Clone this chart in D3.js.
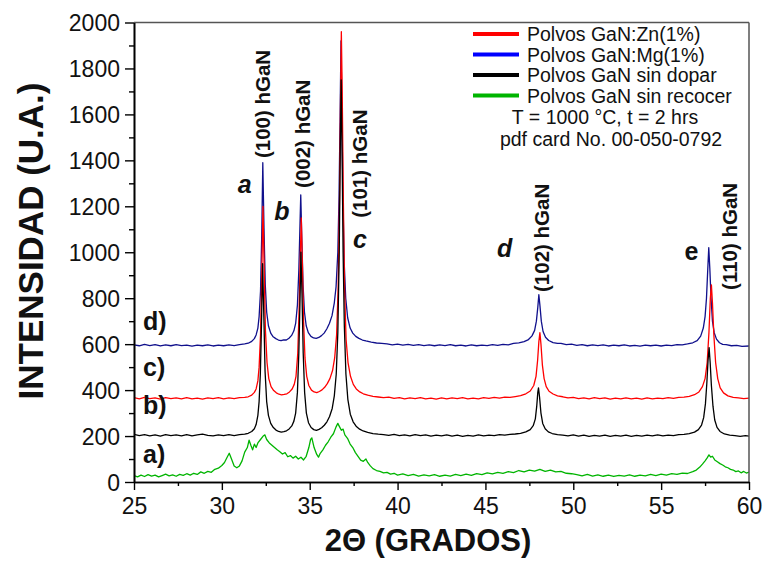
<!DOCTYPE html>
<html><head><meta charset="utf-8">
<script src="https://cdn.jsdelivr.net/npm/d3@7"></script>
<style>body{margin:0;background:#fff} text{font-family:Arial,"Liberation Sans",sans-serif}</style>
</head><body><svg id="c" width="766" height="561"></svg>
<script>
// ---- data (2θ, intensity) ----
const xTicks = [25,30,35,40,45,50,55,60];
const xMinor = [27.5,32.5,37.5,42.5,47.5,52.5,57.5];
const yTicks = [0,200,400,600,800,1000,1200,1400,1600,1800,2000];
const yMinor = [100,300,500,700,900,1100,1300,1500,1700,1900];

const seriesNames = ["Polvos GaN:Zn(1%)","Polvos GaN:Mg(1%)","Polvos GaN sin dopar","Polvos GaN sin recocer"];
const seriesColors = ["#ff0000","#10108c","#000000","#00b400"];
const legendColors = ["#ff0000","#0000ff","#000000","#00b400"];

const mgData = [[25.0,597],[25.3,593],[25.6,599],[25.9,594],[26.2,598],[26.5,592],[26.8,597],[27.1,593],[27.4,598],[27.7,594],[28.0,596],[28.3,591],[28.6,596],[28.9,593],[29.2,597],[29.5,592],[29.8,596],[30.1,593],[30.4,597],[30.7,594],[31.0,598],[31.3,601],
[31.5,604],[31.7,612],[31.85,624],[31.95,640],[32.05,670],[32.12,720],[32.2,830],[32.27,1080],[32.33,1390],[32.4,1100],[32.47,860],[32.55,740],[32.65,680],[32.78,648],[32.92,632],[33.07,624],[33.22,618],[33.37,615],[33.52,619],[33.67,618],[33.82,626],[33.97,638],[34.1,658],[34.2,690],[34.3,770],[34.38,920],[34.44,1100],[34.49,1250],[34.55,1060],[34.62,860],[34.7,740],[34.8,680],[34.92,650],[35.07,634],[35.22,627],[35.37,625],[35.52,629],[35.67,637],[35.82,648],[35.97,666],[36.12,690],[36.27,724],[36.4,780],[36.5,850],[36.6,1000],[36.67,1250],[36.73,1600],[36.78,1920],[36.83,1620],[36.89,1250],[36.96,960],[37.05,800],[37.16,715],[37.3,670],[37.45,648],[37.62,634],[37.8,625],[38.0,618],[38.2,614],[38.5,609],[38.8,605],[39.1,603],
[39.4,601],[39.7,597],[40.0,600],[40.3,596],[40.6,599],[40.9,595],[41.2,598],[41.5,594],[41.8,597],[42.1,593],[42.4,597],[42.7,594],[43.0,598],[43.3,593],[43.6,596],[43.9,592],[44.2,597],[44.5,593],[44.8,596],[45.1,594],[45.4,598],[45.7,595],[46.0,599],[46.3,597],[46.6,603],
[46.9,606],[47.2,611],[47.45,620],[47.65,636],[47.8,660],[47.9,700],[47.98,760],[48.04,815],[48.1,770],[48.18,700],[48.28,655],[48.42,630],[48.6,616],[48.85,607],[49.1,603],
[49.3,603],[49.6,598],[49.9,600],[50.2,595],[50.5,598],[50.8,593],[51.1,597],[51.4,594],[51.7,597],[52.0,592],[52.3,596],[52.6,593],[52.9,597],[53.2,592],[53.5,595],[53.8,591],[54.1,596],[54.4,593],[54.7,596],[55.0,592],[55.3,596],[55.6,594],[55.9,598],[56.2,597],[56.5,601],
[56.8,606],[57.05,615],[57.25,635],[57.4,670],[57.5,720],[57.58,800],[57.65,920],[57.71,1020],[57.77,930],[57.84,800],[57.92,700],[58.02,650],[58.15,622],[58.32,606],[58.5,599],
[58.7,598],[59.0,593],[59.3,595],[59.6,590],[60.0,592]];

const znData = [[25.0,367],[25.3,362],[25.6,368],[25.9,363],[26.2,366],[26.5,361],[26.8,367],[27.1,363],[27.4,366],[27.7,362],[28.0,367],[28.3,362],[28.6,365],[28.9,361],[29.2,366],[29.5,363],[29.8,367],[30.1,362],[30.4,366],[30.7,363],[31.0,367],[31.3,368],
[31.5,371],[31.7,378],[31.85,390],[31.95,405],[32.05,440],[32.12,500],[32.2,640],[32.27,900],[32.34,1200],[32.41,920],[32.48,660],[32.57,520],[32.67,450],[32.8,415],[32.95,398],[33.1,388],[33.25,382],[33.4,379],[33.55,381],[33.7,384],[33.85,392],[34.0,405],[34.12,425],[34.22,460],[34.32,560],[34.4,760],[34.47,1000],[34.52,1150],[34.58,960],[34.65,700],[34.73,540],[34.83,460],[34.95,420],[35.1,400],[35.25,392],[35.4,389],[35.55,394],[35.7,401],[35.85,412],[36.0,428],[36.15,450],[36.3,485],[36.42,540],[36.53,640],[36.62,850],[36.7,1250],[36.76,1700],[36.8,1960],[36.85,1700],[36.91,1250],[36.98,850],[37.07,620],[37.18,520],[37.32,460],[37.48,425],[37.65,405],[37.85,392],[38.05,384],[38.3,378],[38.6,373],[38.9,370],[39.2,367],
[39.5,369],[39.8,364],[40.1,367],[40.4,362],[40.7,366],[41.0,363],[41.3,367],[41.6,362],[41.9,365],[42.2,361],[42.5,366],[42.8,362],[43.1,366],[43.4,363],[43.7,367],[44.0,362],[44.3,365],[44.6,362],[44.9,367],[45.2,364],[45.5,368],[45.8,365],[46.1,369],[46.4,368],[46.7,372],
[47.0,376],[47.3,384],[47.55,396],[47.75,420],[47.88,460],[47.97,530],[48.04,610],[48.1,650],[48.16,600],[48.24,510],[48.34,450],[48.46,415],[48.62,395],[48.85,383],[49.1,375],[49.4,371],
[49.7,366],[50.0,368],[50.3,363],[50.6,366],[50.9,362],[51.2,367],[51.5,363],[51.8,366],[52.1,361],[52.4,365],[52.7,362],[53.0,366],[53.3,362],[53.6,365],[53.9,361],[54.2,366],[54.5,362],[54.8,365],[55.1,363],[55.4,367],[55.7,364],[56.0,368],[56.3,369],[56.6,373],
[56.9,380],[57.15,392],[57.35,415],[57.5,450],[57.62,520],[57.72,650],[57.8,800],[57.86,858],[57.92,780],[58.0,640],[58.1,520],[58.22,450],[58.36,410],[58.55,388],[58.8,375],[59.1,368],[59.4,366],[59.7,363],[60.0,365]];

const undopedData = [[25.0,207],[25.3,202],[25.6,206],[25.9,201],[26.2,205],[26.5,200],[26.8,206],[27.1,202],[27.4,205],[27.7,201],[28.0,206],[28.3,201],[28.6,205],[28.9,208],[29.2,203],[29.5,201],[29.8,205],[30.1,202],[30.4,206],[30.7,202],[31.0,206],[31.3,208],
[31.5,212],[31.7,220],[31.85,232],[31.95,250],[32.05,290],[32.12,350],[32.19,470],[32.26,700],[32.32,950],[32.39,720],[32.46,480],[32.55,350],[32.65,290],[32.78,255],[32.93,237],[33.08,226],[33.23,220],[33.38,217],[33.53,219],[33.68,223],[33.83,231],[33.98,244],[34.1,265],[34.2,300],[34.3,390],[34.38,560],[34.45,800],[34.5,1000],[34.56,820],[34.63,560],[34.71,390],[34.81,300],[34.93,258],[35.08,237],[35.23,228],[35.38,225],[35.53,229],[35.68,236],[35.83,247],[35.98,262],[36.13,285],[36.28,320],[36.4,375],[36.51,470],[36.6,650],[36.68,1000],[36.74,1450],[36.79,1750],[36.84,1450],[36.9,1000],[36.97,680],[37.06,470],[37.17,360],[37.31,295],[37.47,262],[37.64,243],[37.84,230],[38.04,222],[38.3,216],[38.6,211],[38.9,208],[39.2,206],
[39.5,203],[39.8,207],[40.1,202],[40.4,205],[40.7,201],[41.0,206],[41.3,202],[41.6,205],[41.9,200],[42.2,204],[42.5,201],[42.8,205],[43.1,200],[43.4,204],[43.7,199],[44.0,203],[44.3,200],[44.6,205],[44.9,201],[45.2,204],[45.5,202],[45.8,206],[46.1,204],[46.4,207],[46.7,209],
[47.0,212],[47.3,218],[47.55,228],[47.72,245],[47.84,275],[47.92,330],[47.98,390],[48.02,410],[48.08,370],[48.16,300],[48.26,255],[48.4,232],[48.58,218],[48.8,211],[49.1,206],[49.4,204],
[49.7,201],[50.0,205],[50.3,200],[50.6,204],[50.9,199],[51.2,203],[51.5,200],[51.8,204],[52.1,199],[52.4,203],[52.7,200],[53.0,204],[53.3,199],[53.6,203],[53.9,200],[54.2,204],[54.5,201],[54.8,205],[55.1,201],[55.4,204],[55.7,202],[56.0,206],[56.3,207],[56.6,211],
[56.9,217],[57.12,228],[57.3,248],[57.42,280],[57.52,340],[57.6,430],[57.67,530],[57.73,585],[57.79,520],[57.86,420],[57.95,330],[58.05,270],[58.18,238],[58.35,220],[58.6,209],[58.9,204],[59.2,202],[59.5,199],[59.8,202],[60.0,200]];

const unannealedData = [[25.0,28],[25.2,22],[25.4,30],[25.6,24],[25.8,32],[26.0,26],[26.2,30],[26.4,22],[26.6,28],[26.8,34],[27.0,27],[27.2,31],[27.4,25],[27.6,33],[27.8,29],[28.0,36],[28.2,30],[28.4,38],[28.6,33],[28.8,44],[29.0,38],[29.2,46],[29.4,42],[29.6,55],[29.8,60],[30.0,72],[30.15,85],[30.3,108],[30.42,125],[30.55,100],[30.7,70],[30.85,62],[31.0,70],[31.15,92],[31.3,130],[31.45,150],[31.55,182],[31.65,160],[31.75,140],[31.85,165],[31.95,150],[32.05,170],[32.2,185],[32.35,200],[32.45,205],[32.55,185],[32.7,170],[32.85,160],[33.0,150],[33.15,140],[33.3,132],[33.45,122],[33.6,128],[33.75,110],[33.9,115],[34.05,104],[34.2,112],[34.35,100],[34.5,108],[34.65,96],[34.8,112],[34.95,150],[35.05,185],[35.12,192],[35.25,150],[35.4,120],[35.5,108],[35.6,125],[35.75,140],[35.9,160],[36.05,175],[36.2,195],[36.35,210],[36.5,240],[36.6,255],[36.7,240],[36.8,225],[36.9,230],[37.0,205],[37.15,190],[37.3,165],[37.45,150],[37.6,128],[37.75,112],[37.9,95],[38.05,90],[38.2,100],[38.3,85],[38.45,70],[38.6,58],[38.8,50],[39.0,46],[39.2,40],[39.4,42],[39.6,34],[39.8,38],[40.0,30],[40.3,35],[40.6,28],[40.9,33],[41.2,26],[41.5,31],[41.8,27],[42.1,32],[42.4,25],[42.7,30],[43.0,26],[43.3,33],[43.6,28],[43.9,34],[44.2,29],[44.5,36],[44.8,32],[45.1,40],[45.4,35],[45.7,42],[46.0,38],[46.3,45],[46.6,41],[46.9,50],[47.2,44],[47.5,52],[47.8,47],[48.1,55],[48.4,46],[48.7,52],[49.0,44],[49.3,46],[49.6,38],[49.9,36],
[50.2,32],[50.5,27],[50.8,33],[51.1,26],[51.4,31],[51.7,25],[52.0,30],[52.3,24],[52.6,29],[52.9,26],[53.2,31],[53.5,25],[53.8,30],[54.1,27],[54.4,33],[54.7,28],[55.0,34],[55.3,30],[55.6,36],[55.9,33],[56.2,39],[56.5,37],[56.8,45],[57.0,52],[57.2,65],[57.35,78],[57.5,92],[57.62,105],[57.72,118],[57.82,108],[57.92,112],[58.05,96],[58.2,88],[58.35,80],[58.5,74],[58.65,66],[58.8,62],[58.95,55],[59.1,52],[59.25,45],[59.4,48],[59.55,40],[59.7,46],[59.85,39],[60.0,43]];

// [text, 2θ at label centre, intensity at label bottom]
const peakLabels = [["(100) hGaN",32.34,1410],["(002) hGaN",34.62,1280],["(101) hGaN",37.86,1150],["(102) hGaN",48.22,827],["(110) hGaN",58.92,836]];
const peakLetters = [["a",31.3,1258,true],["b",33.42,1141,true],["c",37.86,1019,true],["d",46.09,980,true],["e",56.73,967,false]];
const curveLabels = [["d)",660],["c)",460],["b)",295],["a)",82]];

// ---- drawing ----
const svg = d3.select("#c");
const x = d3.scaleLinear().domain([25,60]).range([134,749]);
const y = d3.scaleLinear().domain([0,2000]).range([482,22.5]);

const line = d3.line().x(d=>x(d[0])).y(d=>y(d[1]));
const plot = svg.append("g");
plot.append("defs").append("clipPath").attr("id","clip").append("rect")
  .attr("x",x(25)).attr("y",y(2000)-2).attr("width",x(60)-x(25)).attr("height",y(0)-y(2000)+2);
const curves = plot.append("g").attr("clip-path","url(#clip)");
[[mgData,1],[znData,0],[undopedData,2],[unannealedData,3]].forEach(([d,i])=>{
  curves.append("path").datum(d).attr("d",line).attr("fill","none")
    .attr("stroke",seriesColors[i]).attr("stroke-width",1.3).attr("stroke-linejoin","round");
});

// frame
svg.append("line").attr("x1",x(25)).attr("x2",x(60)).attr("y1",y(2000)).attr("y2",y(2000)).attr("stroke","#555").attr("stroke-width",1.5);
svg.append("line").attr("x1",x(60)).attr("x2",x(60)).attr("y1",y(2000)).attr("y2",y(0)).attr("stroke","#555").attr("stroke-width",1.5);

// axes
const axFont = "23px";
const gx = svg.append("g").attr("transform",`translate(0,${y(0)})`)
  .call(d3.axisBottom(x).tickValues(xTicks).tickSize(8).tickSizeOuter(0).tickPadding(8).tickFormat(d3.format("d")));
const gxm = svg.append("g").attr("transform",`translate(0,${y(0)})`)
  .call(d3.axisBottom(x).tickValues(xMinor).tickSize(4).tickSizeOuter(0).tickFormat(""));
const gy = svg.append("g").attr("transform",`translate(${x(25)},0)`)
  .call(d3.axisLeft(y).tickValues(yTicks).tickSize(9).tickSizeOuter(0).tickPadding(5).tickFormat(d3.format("d")));
const gym = svg.append("g").attr("transform",`translate(${x(25)},0)`)
  .call(d3.axisLeft(y).tickValues(yMinor).tickSize(5).tickSizeOuter(0).tickFormat(""));
[gx,gxm,gy,gym].forEach(g=>{
  g.select(".domain").attr("stroke","#000").attr("stroke-width",1.6);
  g.selectAll(".tick line").attr("stroke","#000").attr("stroke-width",1.4);
  g.selectAll("text").attr("font-size",axFont).attr("fill","#111").attr("font-family","Arial, 'Liberation Sans', sans-serif");
});
gy.selectAll("text").attr("dy","0.36em");

// axis titles
svg.append("text").attr("x",428).attr("y",551).attr("text-anchor","middle")
  .attr("font-weight","bold").attr("font-size","31px").attr("fill","#111").text("2Θ (GRADOS)");
svg.append("text").attr("transform","translate(43,241) rotate(-90)").attr("text-anchor","middle")
  .attr("font-weight","bold").attr("font-size","35px").attr("fill","#111").text("INTENSIDAD (U.A.)");

// legend
const lg = svg.append("g");
seriesNames.forEach((n,i)=>{
  const yy = 34 + i*20.5;
  lg.append("line").attr("x1",473).attr("x2",519).attr("y1",yy).attr("y2",yy)
    .attr("stroke",legendColors[i]).attr("stroke-width",4);
  lg.append("text").attr("x",527).attr("y",yy+7).attr("font-size","19.5px").attr("fill","#111").text(n);
});
lg.append("text").attr("x",605).attr("y",124).attr("text-anchor","middle").attr("font-size","19.5px").attr("fill","#111").text("T = 1000 °C, t = 2 hrs");
lg.append("text").attr("x",611).attr("y",146).attr("text-anchor","middle").attr("font-size","19.5px").attr("fill","#111").text("pdf card No. 00-050-0792");

// peak labels (rotated, anchored at bottom)
peakLabels.forEach(([t,px,py])=>{
  svg.append("text").attr("transform",`translate(${x(px)+7},${y(py)}) rotate(-90)`)
    .attr("font-size","20.5px").attr("font-weight","bold").attr("fill","#111").text(t);
});
peakLetters.forEach(([t,px,py,it])=>{
  svg.append("text").attr("x",x(px)).attr("y",y(py)).attr("text-anchor","middle")
    .attr("font-size","25px").attr("font-weight","bold").attr("font-style",it?"italic":"normal").attr("fill","#111").text(t);
});
curveLabels.forEach(([t,py])=>{
  svg.append("text").attr("x",143).attr("y",y(py)).attr("font-size","25px").attr("font-weight","bold").attr("fill","#111").text(t);
});
</script></body></html>
